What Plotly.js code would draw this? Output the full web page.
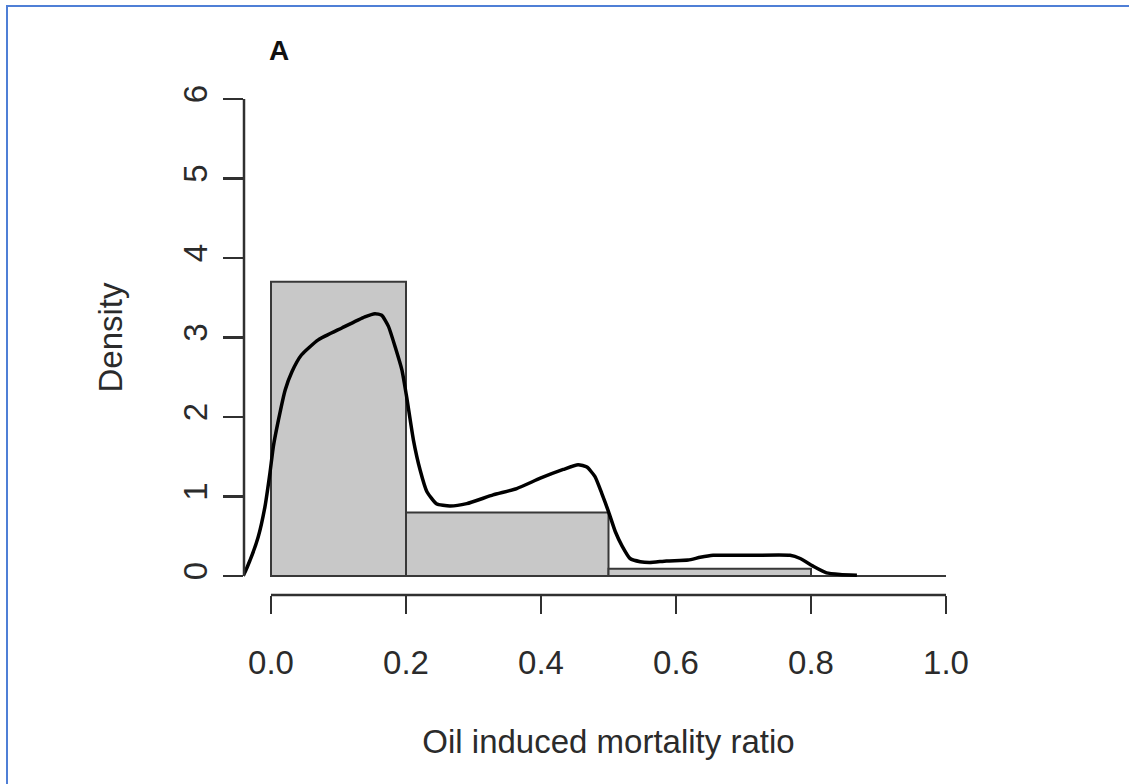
<!DOCTYPE html>
<html>
<head>
<meta charset="utf-8">
<script src="https://cdn.plot.ly/plotly-3.0.1.min.js"></script>
<style>
  html, body { margin: 0; padding: 0; background: #ffffff; }
  #wrap { position: relative; width: 1129px; height: 784px; overflow: hidden; }
  #chart { position: absolute; left: 0; top: 0; width: 1129px; height: 784px; }
  #frame { position: absolute; left: 6px; top: 5px; right: -10px; bottom: -10px;
           border-left: 2px solid #4f7fd6; border-top: 2px solid #4f7fd6; pointer-events: none; }
</style>
</head>
<body>
<div id="wrap">
  <div id="chart"></div>
  <div id="frame"></div>
</div>
<script>
// Histogram bins (breaks) and densities
const binEdges = [0.0, 0.2, 0.5, 0.8, 1.0];
const binDensity = [3.70, 0.80, 0.09, 0.0];

// Kernel density estimate
const densX = [-0.046, -0.041, -0.031, -0.019, -0.009, -0.0015, 0.0035, 0.011, 0.021, 0.031, 0.045, 0.070, 0.105, 0.139, 0.154, 0.164, 0.174, 0.184, 0.194, 0.201, 0.211, 0.221, 0.231, 0.245, 0.265, 0.290, 0.329, 0.364, 0.399, 0.433, 0.455, 0.468, 0.480, 0.490, 0.500, 0.510, 0.520, 0.532, 0.547, 0.561, 0.586, 0.618, 0.636, 0.655, 0.710, 0.769, 0.784, 0.804, 0.823, 0.843, 0.868];
const densY = [0.0, 0.01, 0.20, 0.49, 0.87, 1.30, 1.63, 1.96, 2.34, 2.57, 2.78, 2.97, 3.12, 3.26, 3.30, 3.28, 3.14, 2.88, 2.59, 2.25, 1.71, 1.33, 1.06, 0.91, 0.88, 0.91, 1.02, 1.10, 1.23, 1.34, 1.40, 1.37, 1.25, 1.04, 0.81, 0.56, 0.38, 0.22, 0.18, 0.17, 0.19, 0.20, 0.235, 0.26, 0.26, 0.26, 0.22, 0.12, 0.04, 0.02, 0.01];

const xTicks = [0.0, 0.2, 0.4, 0.6, 0.8, 1.0];
const xTickLabels = ["0.0", "0.2", "0.4", "0.6", "0.8", "1.0"];
const yTicks = [0, 1, 2, 3, 4, 5, 6];
const yTickLabels = ["0", "1", "2", "3", "4", "5", "6"];

const panelLabel = "A";
const xTitle = "Oil induced mortality ratio";
const yTitle = "Density";

// Build bars from bins
const barX = [], barW = [], barY = [];
const zeroX = [], zeroY = [];
for (let i = 0; i < binDensity.length; i++) {
  const a = binEdges[i], b = binEdges[i + 1];
  if (binDensity[i] > 0) {
    barX.push((a + b) / 2); barW.push(b - a); barY.push(binDensity[i]);
  } else {
    zeroX.push(a, b, null); zeroY.push(0, 0, null);
  }
}

const textColor = "#2b2b2b";
const axisColor = "#303030";
const font = "Liberation Sans, Arial, sans-serif";
const fs = 33;

const traces = [
  {
    type: "bar", x: barX, y: barY, width: barW,
    marker: { color: "#c8c8c8", line: { color: "#383838", width: 2 } },
    hoverinfo: "skip", showlegend: false
  },
  {
    type: "scatter", mode: "lines", x: zeroX, y: zeroY,
    line: { color: "#383838", width: 2 }, hoverinfo: "skip", showlegend: false
  },
  {
    type: "scatter", mode: "lines", x: densX, y: densY,
    line: { color: "#000000", width: 3.5, shape: "spline", smoothing: 0.5 },
    hoverinfo: "skip", showlegend: false
  }
];

const layout = {
  width: 1129, height: 784,
  paper_bgcolor: "rgba(0,0,0,0)", plot_bgcolor: "rgba(0,0,0,0)",
  margin: { l: 244, r: 156, t: 80, b: 189 },
  font: { family: font, color: textColor, size: fs },
  bargap: 0,
  xaxis: {
    range: [-0.04, 1.04], showgrid: false, zeroline: false, showline: false,
    tickmode: "array", tickvals: xTicks, ticktext: xTickLabels,
    ticks: "outside", ticklen: 18, tickwidth: 2.5, tickcolor: axisColor,
    tickfont: { family: font, size: fs, color: textColor },
    ticklabelstandoff: 20,
    title: { text: xTitle, font: { family: font, size: fs, color: textColor }, standoff: 50 }
  },
  yaxis: {
    range: [-0.239, 6.239], showgrid: false, zeroline: false, showline: false,
    tickmode: "array", tickvals: yTicks, ticktext: yTickLabels,
    ticks: "outside", ticklen: 20, tickwidth: 2.5, tickcolor: axisColor,
    tickangle: -90,
    tickfont: { family: font, size: fs, color: textColor },
    ticklabelstandoff: 3,
    title: { text: yTitle, font: { family: font, size: fs, color: textColor }, standoff: 44 }
  },
  shapes: [
    { type: "line", xref: "x", yref: "paper", x0: xTicks[0], x1: xTicks[xTicks.length - 1], y0: 0, y1: 0,
      line: { color: axisColor, width: 2.5 } },
    { type: "line", xref: "paper", yref: "y", x0: 0, x1: 0, y0: yTicks[0], y1: yTicks[yTicks.length - 1],
      line: { color: axisColor, width: 2.5 } }
  ],
  annotations: [
    { text: "<b>" + panelLabel + "</b>", xref: "x", yref: "paper", x: 0.0, y: 1.0,
      xanchor: "left", yanchor: "bottom", xshift: -4, yshift: 12, showarrow: false,
      font: { family: font, size: 28, color: "#111111" } }
  ]
};

Plotly.newPlot("chart", traces, layout, { staticPlot: true, displayModeBar: false });
</script>
</body>
</html>
